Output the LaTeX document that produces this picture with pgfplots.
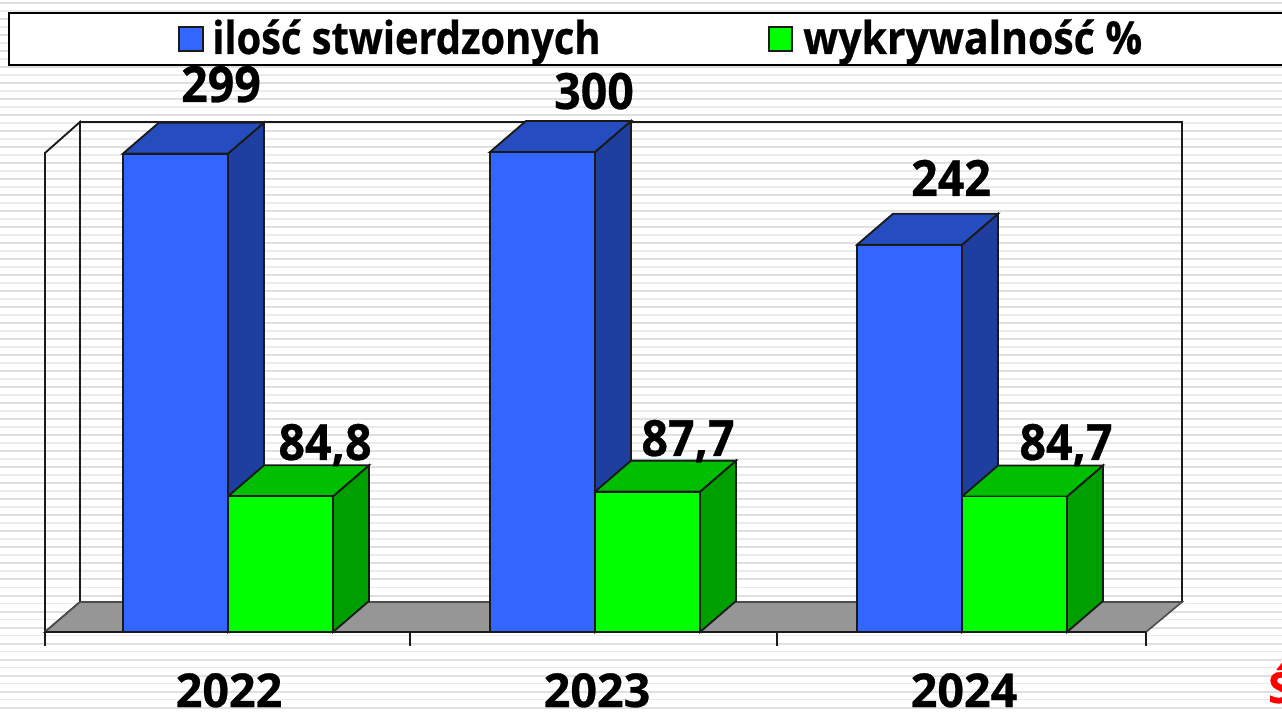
\documentclass[border=0pt]{standalone}
\usepackage{fontspec}
\setmainfont{Open Sans}[BoldFont={Open Sans Bold},BoldFeatures={FakeBold=0.6}]
\usepackage{pgfplots}
\pgfplotsset{compat=1.18}
\definecolor{bluefront}{HTML}{3366FF}
\definecolor{bluetop}{HTML}{264DBF}
\definecolor{blueside}{HTML}{1F3FA0}
\definecolor{greenfront}{HTML}{00FF00}
\definecolor{greentop}{HTML}{00BF00}
\definecolor{greenside}{HTML}{009F00}
\definecolor{floorgray}{HTML}{969696}
\definecolor{edge}{HTML}{1A1A1A}
\newcommand{\bigtxt}[1]{\fontsize{37.5}{37.5}\selectfont\bfseries\scalebox{0.93}[1]{#1}}
\newcommand{\yeartxt}[1]{\fontsize{35}{35}\selectfont\bfseries\scalebox{1.0}[1]{#1}}
\newcommand{\legtxt}[2]{\fontsize{34}{34}\selectfont\bfseries\scalebox{#1}[1]{#2}}
\begin{document}
\begin{tikzpicture}
\useasboundingbox (0,0) rectangle (961.5pt,533.25pt);
\clip (0,0) rectangle (961.5pt,533.25pt);
\begin{scope}[x=0.75pt,y=-0.75pt,shift={(0,-711)}]
\foreach \k in {0,...,44}{
  \fill[black!12] (0,{3+16*\k-0.5}) rectangle (1282,{3+16*\k+1.5});
  \fill[black!8] (0,{11+16*\k-0.5}) rectangle (1282,{11+16*\k+1});
}
\end{scope}
\begin{axis}[at={(0,0)},anchor=south west,scale only axis,width=961.5pt,height=533.25pt,
  xmin=0,xmax=1282,ymin=-49.375,ymax=395,axis lines=none,clip=false]
% walls
\addplot[draw=edge,line width=1.4pt] coordinates {(45,0)(45,299.375)(80,318.75)(80,18.75)} --cycle;
\addplot[draw=edge,line width=1.4pt] coordinates {(80,18.75)(80,318.75)(1182,318.75)(1182,18.75)} --cycle;
% floor
\addplot[fill=floorgray,draw=black!70,line width=1.2pt] coordinates {(45,0)(80,18.75)(1182,18.75)(1146,0)} --cycle;
% ticks
\addplot[edge,line width=1.4pt,forget plot] coordinates {(45,0)(1146,0)};
\addplot[edge,line width=1.4pt] coordinates {(45,0)(45,-9)};
\addplot[edge,line width=1.4pt] coordinates {(410,0)(410,-9)};
\addplot[edge,line width=1.4pt] coordinates {(777,0)(777,-9)};
\addplot[edge,line width=1.4pt] coordinates {(1146,0)(1146,-9)};
% 2022
\addplot[fill=blueside,draw=edge,line width=1.4pt] coordinates {(228,0)(228,299)(264,318.375)(264,19.375)} --cycle;
\addplot[fill=bluetop,draw=edge,line width=1.4pt] coordinates {(123,299)(159,318.375)(264,318.375)(228,299)} --cycle;
\addplot[fill=greenside,draw=edge,line width=1.4pt] coordinates {(333,0)(333,84.8)(369,104.175)(369,19.375)} --cycle;
\addplot[fill=greentop,draw=edge,line width=1.4pt] coordinates {(228,84.8)(264,104.175)(369,104.175)(333,84.8)} --cycle;
% 2023
\addplot[fill=blueside,draw=edge,line width=1.4pt] coordinates {(595,0)(595,300)(631,319.375)(631,19.375)} --cycle;
\addplot[fill=bluetop,draw=edge,line width=1.4pt] coordinates {(490,300)(526,319.375)(631,319.375)(595,300)} --cycle;
\addplot[fill=greenside,draw=edge,line width=1.4pt] coordinates {(700,0)(700,87.7)(736,107.075)(736,19.375)} --cycle;
\addplot[fill=greentop,draw=edge,line width=1.4pt] coordinates {(595,87.7)(631,107.075)(736,107.075)(700,87.7)} --cycle;
% 2024
\addplot[fill=blueside,draw=edge,line width=1.4pt] coordinates {(962,0)(962,242)(998,261.375)(998,19.375)} --cycle;
\addplot[fill=bluetop,draw=edge,line width=1.4pt] coordinates {(857,242)(893,261.375)(998,261.375)(962,242)} --cycle;
\addplot[fill=greenside,draw=edge,line width=1.4pt] coordinates {(1067,0)(1067,84.7)(1103,104.075)(1103,19.375)} --cycle;
\addplot[fill=greentop,draw=edge,line width=1.4pt] coordinates {(962,84.7)(998,104.075)(1103,104.075)(1067,84.7)} --cycle;
% fronts
\addplot[ybar,bar width=78.75pt,bar shift=0pt,fill=bluefront,draw=edge,line width=1.4pt] coordinates {(175.5,299)(542.5,300)(909.5,242)};
\addplot[ybar,bar width=78.75pt,bar shift=0pt,fill=greenfront,draw=edge,line width=1.4pt] coordinates {(280.5,84.8)(647.5,87.7)(1014.5,84.7)};
\end{axis}
\begin{scope}[x=0.75pt,y=-0.75pt,shift={(0,-711)}]
\draw[fill=white,draw=black,line width=1.6pt] (9,13) rectangle (1300,65);
\draw[fill=bluefront,draw=edge,line width=1.4pt] (179,27) rectangle (203,51);
\draw[fill=greenfront,draw=edge,line width=1.4pt] (769,27) rectangle (792,51);
\node[anchor=base west,inner sep=0pt] at (212,54) {\legtxt{0.878}{ilość stwierdzonych}};
\node[anchor=base west,inner sep=0pt] at (803,54) {\legtxt{0.903}{wykrywalność \%}};
\foreach \x/\y/\t in {221/102/299,594/109/300,951/196/242,325/460/{84,8},688/456/{87,7},1066/460/{84,7}}
  \node[anchor=base,inner sep=0pt] at (\x,\y) {\bigtxt{\t}};
\foreach \x/\t in {229/2022,597/2023,964/2024}
  \node[anchor=base,inner sep=0pt] at (\x,707) {\yeartxt{\t}};
\node[anchor=base west,inner sep=0pt,text=red] at (1268,703) {\fontsize{32}{32}\selectfont\bfseries Ś};
\end{scope}
\end{tikzpicture}
\end{document}
